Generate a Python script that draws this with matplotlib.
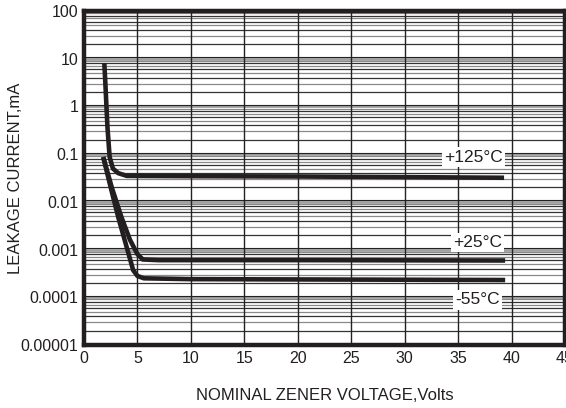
import numpy as np
import matplotlib
matplotlib.use('Agg')
import matplotlib.pyplot as plt
from matplotlib.ticker import FixedLocator, NullFormatter

plt.rcParams['font.family'] = ['Liberation Sans', 'DejaVu Sans']

# curve data
v_125 = [1.9, 2.0, 2.1, 2.2, 2.4, 2.7, 3.2, 4.0, 10, 20, 30, 39.3]
i_125 = [8.1, 3.0, 1.0, 0.35, 0.087, 0.05, 0.04, 0.035, 0.0345, 0.034, 0.033, 0.032]

v_25 = [1.8, 2.6, 3.5, 4.3, 5.0, 5.5, 7.0, 20, 39.4]
i_25 = [0.087, 0.02, 0.0048, 0.0016, 0.0008, 0.00062, 0.0006, 0.0006, 0.00059]

v_m55 = [1.8, 2.5, 3.2, 3.8, 4.6, 5.0, 5.6, 10, 25, 39.4]
i_m55 = [0.087, 0.02, 0.0048, 0.0016, 0.00037, 0.00028, 0.00025, 0.00024, 0.000235, 0.00023]

labels = ['+125°C', '+25°C', '-55°C']
label_pos = [(36.4, 0.087), (36.8, 0.0014), (36.8, 0.000088)]

x_ticks = [0, 5, 10, 15, 20, 25, 30, 35, 40, 45]
y_ticks = [1e-5, 1e-4, 1e-3, 1e-2, 1e-1, 1, 10, 100]
y_ticklabels = ['0.00001', '0.0001', '0.001', '0.01', '0.1', '1', '10', '100']

fig = plt.figure(figsize=(5.66, 4.08), dpi=100)
ax = fig.add_axes([84/566, 1 - 345/408, (565 - 84)/566, (345 - 11)/408])
ax.set_yscale('log')
ax.set_xlim(0, 45)
ax.set_ylim(1e-5, 100)

# horizontal grid: gray decade lines, dense minor lines
for dec in y_ticks[:-1]:
    for k in range(2, 10):
        c = '#333333' if k % 2 == 0 else '#8a8a8a'
        ax.axhline(dec * k, color=c, lw=0.9, zorder=1)
for dec in y_ticks:
    ax.axhline(dec, color='#a0a0a0', lw=2.0, zorder=1)
    ax.axhline(dec * 1.07, color='#222222', lw=0.8, zorder=1)
for xv in x_ticks[1:-1]:
    ax.axvline(xv, color='#222222', lw=1.0, zorder=1)

lc = '#231f20'
ax.plot(v_125, i_125, color=lc, lw=3.3, solid_capstyle='butt', zorder=3)
ax.plot(v_25, i_25, color=lc, lw=3.3, solid_capstyle='butt', zorder=3)
ax.plot(v_m55, i_m55, color=lc, lw=3.3, solid_capstyle='butt', zorder=3)

for txt, (xv, yv) in zip(labels, label_pos):
    ax.text(xv, yv, txt, fontsize=12.5, ha='center', va='center', zorder=4,
            color=lc, bbox=dict(facecolor='white', edgecolor='none', pad=1.5))

ax.xaxis.set_major_locator(FixedLocator(x_ticks))
ax.set_xticklabels([str(t) for t in x_ticks])
ax.yaxis.set_major_locator(FixedLocator(y_ticks))
ax.yaxis.set_minor_formatter(NullFormatter())
ax.set_yticklabels(y_ticklabels)
ax.tick_params(which='both', length=0, labelsize=11.5, colors=lc, pad=4)

for sp in ax.spines.values():
    sp.set_linewidth(3.2)
    sp.set_color(lc)

ax.set_ylabel('LEAKAGE CURRENT,mA', fontsize=12, color=lc, va='center')
ax.yaxis.set_label_coords((16 - 84) / 481, 0.5)
ax.set_xlabel('NOMINAL ZENER VOLTAGE,Volts', fontsize=12, color=lc, va='center')
ax.xaxis.set_label_coords(0.5, -(395 - 345) / 334)

fig.savefig('out.png', dpi=100)
